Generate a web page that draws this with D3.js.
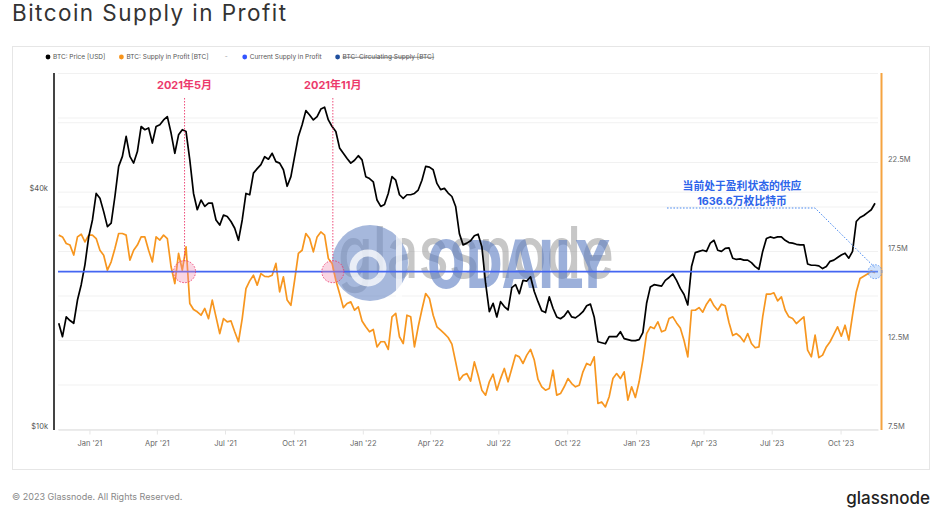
<!DOCTYPE html>
<html>
<head>
<meta charset="utf-8">
<script src="https://cdn.jsdelivr.net/npm/d3@7"></script>
<style>
  body { margin: 0; background: #fff; }
  svg { display: block; font-family: Inter, "Noto Sans CJK SC", sans-serif; }
</style>
</head>
<body>
<svg id="chart" width="937" height="528"></svg>
<script>
// --- data (one value every 5 days) ---
const startDate = "2020-11-21";
const stepDays = 5;

// BTC price, thousands of USD
const priceUSD = [
  18.6, 17.2, 19.3, 18.9, 18.6, 21.3, 23.3, 26.2, 30.8, 34.0,
  39.7, 38.6, 35.7, 32.7, 33.4, 39.0, 46.5, 49.3, 55.4, 49.3,
  47.4, 50.7, 58.7, 57.6, 58.2, 53.3, 58.7, 59.3, 61.0, 62.2,
  56.5, 50.2, 55.9, 57.6, 57.0, 48.3, 39.7, 36.1, 38.2, 36.8,
  37.5, 37.5, 34.0, 33.0, 35.0, 34.7, 33.7, 32.4, 30.2, 34.0,
  39.7, 39.4, 44.7, 45.9, 47.0, 49.2, 48.5, 50.2, 47.8, 47.4,
  45.6, 41.4, 43.8, 49.3, 55.4, 59.3, 64.4, 62.8, 61.0, 62.2,
  65.0, 65.7, 61.0, 58.7, 57.0, 51.8, 50.2, 48.7, 47.4, 48.2,
  49.5, 48.3, 43.8, 43.3, 42.5, 38.2, 36.8, 37.2, 39.7, 43.8,
  42.9, 39.4, 38.6, 39.4, 39.4, 39.7, 40.5, 42.9, 46.5, 46.3,
  45.6, 42.1, 40.6, 40.9, 39.8, 39.0, 36.8, 31.4, 29.4, 29.7,
  30.1, 31.0, 31.3, 29.1, 23.5, 19.9, 20.9, 19.3, 21.1, 20.5,
  20.1, 22.9, 23.3, 22.1, 23.9, 23.8, 24.4, 22.4, 21.1, 20.0,
  19.8, 21.7, 20.3, 19.3, 19.1, 19.4, 20.0, 19.3, 19.2, 19.5,
  19.9, 20.6, 20.8, 19.3, 16.7, 16.6, 16.5, 17.2, 17.2, 17.2,
  17.7, 17.0, 16.9, 16.8, 16.8, 16.9, 17.6, 20.9, 23.0, 23.3,
  23.2, 23.1, 23.9, 24.3, 24.8, 23.9, 22.8, 22.0, 20.7, 25.9,
  28.1, 28.3, 28.5, 28.3, 29.7, 30.2, 28.5, 28.3, 28.8, 28.9,
  27.2, 27.0, 27.1, 26.9, 26.9, 26.5, 25.9, 25.5, 28.3, 30.5,
  30.8, 30.6, 30.8, 30.8, 30.2, 29.8, 29.7, 29.5, 29.4, 29.4,
  26.3, 26.1, 26.1, 26.0, 25.6, 25.9, 26.7, 26.9, 27.3, 27.7,
  28.0, 27.2, 28.3, 33.7, 34.5, 34.9, 35.5, 36.1, 37.5
];

// BTC supply in profit, millions of BTC
const supplyInProfit = [
  18.42, 18.32, 17.95, 17.86, 17.30, 18.32, 18.47, 18.04, 18.42, 18.42,
  18.23, 17.57, 17.29, 16.45, 16.92, 17.67, 18.51, 18.51, 18.42, 17.01,
  17.57, 17.86, 18.32, 18.32, 17.57, 16.92, 18.32, 18.14, 18.42, 18.23,
  16.64, 15.70, 17.39, 16.45, 17.76, 14.58, 14.24, 14.11, 13.92, 14.30,
  13.73, 14.77, 13.83, 12.89, 13.73, 13.55, 13.60, 12.99, 12.43, 13.73,
  15.42, 15.85, 16.17, 15.61, 16.26, 16.10, 16.08, 16.17, 16.83, 15.23,
  16.08, 14.77, 14.48, 15.89, 17.39, 17.57, 18.51, 18.23, 17.48, 18.32,
  18.60, 18.42, 17.11, 16.83, 15.89, 15.14, 14.35, 14.58, 14.67, 14.20,
  14.39, 13.60, 13.27, 12.99, 13.12, 12.14, 12.43, 12.43, 12.00, 13.83,
  14.02, 12.71, 12.33, 13.92, 13.83, 12.14, 13.27, 14.24, 15.14, 14.86,
  13.92, 13.27, 13.08, 12.89, 12.67, 12.30, 11.30, 10.27, 10.55, 10.64,
  10.22, 11.30, 10.55, 9.71, 9.43, 10.18, 10.61, 9.71, 10.36, 10.93,
  10.18, 10.93, 11.68, 11.58, 11.21, 11.68, 12.00, 11.40, 10.31, 9.90,
  9.71, 9.80, 10.83, 9.43, 9.52, 9.90, 10.36, 10.08, 9.90, 9.99,
  10.74, 11.21, 11.11, 11.58, 8.96, 9.05, 8.77, 9.34, 10.36, 10.64,
  10.36, 10.74, 9.15, 9.90, 9.30, 10.18, 11.40, 12.89, 13.27, 13.17,
  13.55, 12.99, 13.08, 13.73, 13.83, 13.49, 13.20, 12.50, 11.58, 14.20,
  14.20, 14.35, 14.09, 14.54, 14.84, 14.45, 14.20, 14.54, 14.45, 13.51,
  12.78, 12.89, 12.71, 12.43, 12.89, 12.33, 12.09, 12.14, 13.83, 15.10,
  15.10, 15.18, 14.73, 14.95, 14.20, 13.83, 13.73, 13.45, 13.64, 13.83,
  11.96, 11.58, 12.80, 11.54, 11.68, 12.14, 12.43, 12.84, 13.27, 12.74,
  13.36, 12.52, 13.92, 15.23, 15.98, 16.11, 16.23, 16.41, 16.30
];

const currentSupply = 16.366e6;

const xTickDates = ["2021-01-01", "2021-04-01", "2021-07-01", "2021-10-01",
  "2022-01-01", "2022-04-01", "2022-07-01", "2022-10-01",
  "2023-01-01", "2023-04-01", "2023-07-01", "2023-10-01"];
const priceTicks = [10000, 40000];
const priceGrid = [10000, 20000, 40000, 60000, 80000];
const supplyTicks = [7.5e6, 12.5e6, 17.5e6, 22.5e6];
const supplyGrid = [7.5e6, 10e6, 12.5e6, 15e6, 17.5e6, 20e6, 22.5e6, 25e6];

const legendLabels = ["BTC: Price [USD]", "BTC: Supply in Profit [BTC]", "-",
  "Current Supply in Profit", "BTC: Circulating Supply [BTC]"];
const legendColors = ["#000000", "#f7931a", null, "#3355ff", "#1f4f9e"];

const eventLabels = ["2021年5月", "2021年11月"];
const eventDates = ["2021-05-08", "2021-11-22"];

const noteLines = ["当前处于盈利状态的供应", "1636.6万枚比特币"];

// --- layout ---
const plot = { left: 58, right: 878, top: 73.5, bottom: 429.5 };
const parse = d3.utcParse("%Y-%m-%d");
const t0 = parse(startDate);

const priceSeries = priceUSD.map((v, i) => ({ date: d3.utcDay.offset(t0, i * stepDays), value: v * 1000 }));
const supplySeries = supplyInProfit.map((v, i) => ({ date: d3.utcDay.offset(t0, i * stepDays), value: v * 1e6 }));

const x = d3.scaleUtc()
  .domain([parse("2020-11-20"), parse("2023-11-20")])
  .range([plot.left, plot.right]);
const yPrice = d3.scaleLog().domain([10000, 80000]).range([plot.bottom, plot.top]);
const ySupply = d3.scaleLinear().domain([7.5e6, 27.5e6]).range([plot.bottom, plot.top]);

const svg = d3.select("#chart");

// title
svg.append("text")
  .attr("x", 12).attr("y", 20.5)
  .attr("font-size", 22.5).attr("fill", "#333")
  .attr("textLength", 274).attr("lengthAdjust", "spacing")
  .text("Bitcoin Supply in Profit");

// frame
svg.append("rect")
  .attr("x", 12.5).attr("y", 46.5).attr("width", 917).attr("height", 423)
  .attr("fill", "none").attr("stroke", "#e6e6e6");

// legend
const legend = svg.append("g").attr("font-size", 6.5).attr("fill", "#555");
let lx = 45;
legendLabels.forEach((label, i) => {
  const c = legendColors[i];
  if (c) {
    legend.append("circle").attr("cx", lx + 3).attr("cy", 57).attr("r", 2.4).attr("fill", c);
  }
  const tx = c ? lx + 8 : lx + 3;
  const t = legend.append("text").attr("x", tx).attr("y", 57).attr("dy", "0.35em")
    .attr("fill", c ? "#555" : "#999").text(label);
  const len = t.node().getComputedTextLength();
  if (i === 4) {
    legend.append("line").attr("x1", tx).attr("x2", tx + len)
      .attr("y1", 57.3).attr("y2", 57.3).attr("stroke", "#666").attr("stroke-width", 0.7);
  }
  lx = tx + len + (c ? 13 : 14);
});

// grid
const grid = svg.append("g").attr("stroke", "#f1f1f1").attr("stroke-width", 1);
priceGrid.forEach(v => grid.append("line")
  .attr("x1", plot.left).attr("x2", plot.right)
  .attr("y1", yPrice(v)).attr("y2", yPrice(v)));
supplyGrid.forEach(v => grid.append("line")
  .attr("x1", plot.left).attr("x2", plot.right)
  .attr("y1", ySupply(v)).attr("y2", ySupply(v)));

// x axis
const xAxis = svg.append("g")
  .attr("transform", `translate(0,${plot.bottom})`)
  .call(d3.axisBottom(x)
    .tickValues(xTickDates.map(parse))
    .tickFormat(d3.utcFormat("%b '%y"))
    .tickSize(5).tickSizeOuter(0).tickPadding(6));
xAxis.select(".domain").attr("stroke", "#e6e6e6").attr("stroke-width", 1.5);
xAxis.selectAll(".tick line").attr("stroke", "#e6e6e6");
xAxis.selectAll(".tick text").attr("fill", "#666").attr("font-size", 7.5)
  .attr("font-family", "Inter, sans-serif");

// left axis
svg.append("line").attr("x1", 54).attr("x2", 54).attr("y1", 73).attr("y2", 430)
  .attr("stroke", "#444").attr("stroke-width", 2);
svg.append("g").selectAll("text").data(priceTicks).join("text")
  .attr("x", 48).attr("y", d => yPrice(d) - 3.5).attr("dy", "0.35em")
  .attr("text-anchor", "end").attr("font-size", 7.5).attr("fill", "#555")
  .text(d => "$" + d3.format("~s")(d));

// right axis
svg.append("line").attr("x1", 881.5).attr("x2", 881.5).attr("y1", 73).attr("y2", 430)
  .attr("stroke", "#f5a340").attr("stroke-width", 2);
svg.append("g").selectAll("text").data(supplyTicks).join("text")
  .attr("x", 888).attr("y", d => ySupply(d) - 3.5).attr("dy", "0.35em")
  .attr("font-size", 7.5).attr("fill", "#666")
  .text(d => d3.format(".1f")(d / 1e6) + "M");

// watermark (glassnode + ODAILY)
const wm = svg.append("g").attr("pointer-events", "none");
wm.append("text").attr("x", 338).attr("y", 278)
  .attr("font-size", 72).attr("font-weight", 500)
  .attr("fill", "#8f8f8f").attr("fill-opacity", 0.5)
  .attr("textLength", 276).attr("lengthAdjust", "spacingAndGlyphs")
  .text("glassnode");
wm.append("circle").attr("cx", 370).attr("cy", 263).attr("r", 38)
  .attr("fill", "#6f8cc6").attr("fill-opacity", 0.62);
wm.append("circle").attr("cx", 368).attr("cy", 268).attr("r", 15)
  .attr("fill", "none").attr("stroke", "#fff").attr("stroke-opacity", 0.75).attr("stroke-width", 7);
wm.append("rect").attr("x", 396).attr("y", 230).attr("width", 6).attr("height", 70)
  .attr("fill", "#fff").attr("fill-opacity", 0.75);
wm.append("text").attr("x", 427).attr("y", 288)
  .attr("font-size", 66).attr("font-weight", 700)
  .attr("font-family", "'DejaVu Sans', sans-serif")
  .attr("fill", "#5a7cc2").attr("fill-opacity", 0.6)
  .attr("textLength", 182).attr("lengthAdjust", "spacingAndGlyphs")
  .text("ODAILY");

// series
const linePrice = d3.line().x(d => x(d.date)).y(d => yPrice(d.value));
const lineSupply = d3.line().x(d => x(d.date)).y(d => ySupply(d.value));

svg.append("path").datum(supplySeries)
  .attr("d", lineSupply).attr("fill", "none")
  .attr("stroke", "#f7961f").attr("stroke-width", 1.7).attr("stroke-linejoin", "round");

svg.append("path").datum(priceSeries)
  .attr("d", linePrice).attr("fill", "none")
  .attr("stroke", "#000").attr("stroke-width", 1.7).attr("stroke-linejoin", "round");

svg.append("line")
  .attr("x1", plot.left).attr("x2", plot.right)
  .attr("y1", ySupply(currentSupply)).attr("y2", ySupply(currentSupply))
  .attr("stroke", "#4466f2").attr("stroke-width", 1.7);

// event markers
const pink = "#ec3a6c";
eventDates.forEach((d, i) => {
  const ex = x(parse(d));
  const ey = ySupply(currentSupply);
  svg.append("line").attr("x1", ex).attr("x2", ex).attr("y1", 98).attr("y2", ey - 11)
    .attr("stroke", pink).attr("stroke-width", 0.9).attr("stroke-dasharray", "1.5,1.5");
  svg.append("circle").attr("cx", ex).attr("cy", ey).attr("r", 11)
    .attr("fill", "#f08ab0").attr("fill-opacity", 0.35)
    .attr("stroke", pink).attr("stroke-width", 0.9).attr("stroke-dasharray", "1.5,1.5");
  svg.append("text").attr("x", ex).attr("y", 85).attr("dy", "0.35em")
    .attr("text-anchor", "middle").attr("font-size", 11).attr("font-weight", 700)
    .attr("fill", pink).text(eventLabels[i]);
});

// current supply callout
const last = supplySeries[supplySeries.length - 1];
const px = x(last.date), py = ySupply(currentSupply);
const blue = "#2c64ea";
svg.append("path")
  .attr("d", `M667,208 L815,208 L${px},${py - 4}`)
  .attr("fill", "none").attr("stroke", "#4a8af0").attr("stroke-width", 1)
  .attr("stroke-dasharray", "1.6,1.6");
svg.append("circle").attr("cx", px).attr("cy", py).attr("r", 7)
  .attr("fill", "#8fb8f5").attr("fill-opacity", 0.4)
  .attr("stroke", "#4a8af0").attr("stroke-width", 0.8).attr("stroke-dasharray", "1.5,1.5");
noteLines.forEach((s, i) => {
  svg.append("text").attr("x", 742).attr("y", 186.5 + i * 14.5).attr("dy", "0.35em")
    .attr("text-anchor", "middle").attr("font-size", 10.8).attr("font-weight", 700)
    .attr("fill", blue).text(s);
});

// footer
svg.append("text").attr("x", 12).attr("y", 497).attr("dy", "0.35em")
  .attr("font-size", 9).attr("fill", "#888")
  .text("© 2023 Glassnode. All Rights Reserved.");
svg.append("text").attr("x", 930).attr("y", 498).attr("dy", "0.35em")
  .attr("text-anchor", "end").attr("font-size", 17).attr("font-weight", 500)
  .attr("fill", "#222").text("glassnode");
</script>
</body>
</html>
